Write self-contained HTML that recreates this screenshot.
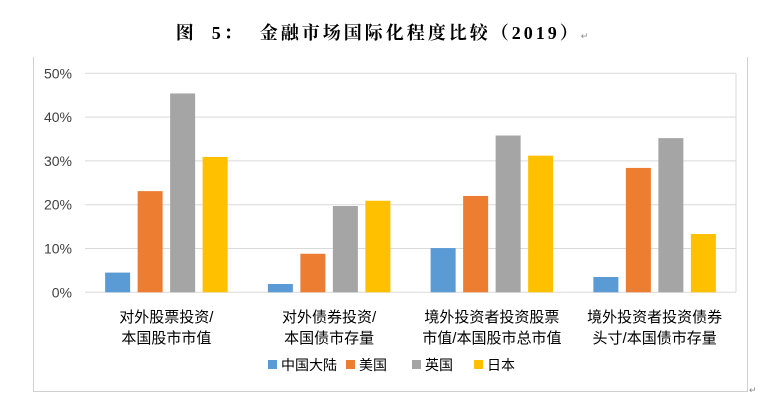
<!DOCTYPE html>
<html><head><meta charset="utf-8"><style>
body{margin:0;width:767px;height:405px;background:#fff;overflow:hidden;position:relative;font-family:"Liberation Sans","Noto Sans CJK SC",sans-serif}
#title{position:absolute;left:0;top:19px;width:767px;text-align:center;font:bold 18px "Liberation Serif","Noto Serif CJK SC",serif;color:#000;letter-spacing:3px}
</style></head><body>
<div id="title">图&nbsp;&nbsp;5：&nbsp;&nbsp;金融市场国际化程度比较（2019）<span style="font-size:9px;color:#888;font-weight:normal">↵</span></div>
<svg id="chart" width="767" height="405" style="position:absolute;left:0;top:0"></svg>
<script>
const categories=[["对外股票投资/","本国股市市值"],["对外债券投资/","本国债市存量"],["境外投资者投资股票","市值/本国股市总市值"],["境外投资者投资债券","头寸/本国债市存量"]];
const seriesNames=["中国大陆","美国","英国","日本"];
const chinaVals=[4.5,1.9,10.1,3.5];
const usVals=[23.1,8.8,22.0,28.4];
const ukVals=[45.4,19.7,35.8,35.2];
const jpVals=[30.9,20.9,31.2,13.3];
const yTicks=[0,10,20,30,40,50];
const colors=["#5b9bd5","#ed7d31","#a5a5a5","#ffc000"];
const svg=document.getElementById('chart');const NS="http://www.w3.org/2000/svg";
function mk(t,a,p){const e=document.createElementNS(NS,t);for(const k in a)e.setAttribute(k,a[k]);(p||svg).appendChild(e);return e;}
const X0=85,X1=736,Y0=292.3,Y1=73.3;
const y=v=>Y0-(v/50)*(Y0-Y1);
const gw=(X1-X0)/categories.length;
const gx=i=>X0+gw*(i+0.5);
const fr=mk('path',{d:"M33.5 57 V391.5 H747.5 V57",fill:"none",stroke:"#d0d0d0","stroke-width":1});


yTicks.forEach(t=>{
 const l=mk('line',{x1:X0,x2:X1,y1:y(t),y2:y(t),stroke:"#d9d9d9","stroke-width":1});
 
 
 const tx=mk('text',{x:72,y:y(t)+5,"text-anchor":"end","font-size":14,fill:"#404040"});
 tx.textContent=t+"%";
 
 
});
mk('line',{x1:X1,x2:X1,y1:Y1,y2:Y0,stroke:"#d9d9d9"});
const all=[chinaVals,usVals,ukVals,jpVals];
const bw=25,step=32.5;
categories.forEach((c,i)=>{
 all.forEach((s,j)=>{
  const cx=gx(i)+(j-1.5)*step;
  const r=mk('rect',{x:cx-bw/2,y:y(s[i]),width:bw,height:Y0-y(s[i]),fill:colors[j]});
  
  
 });
 c.forEach((line,k)=>{
  const t=mk('text',{x:gx(i),y:322+k*21,"text-anchor":"middle","font-size":15,fill:"#000"});
  t.textContent=line;
  
  
 });
});
const lx=[268,346,412,474];
seriesNames.forEach((n,j)=>{
 const g=mk('g',{});
 
 
 mk('rect',{x:lx[j],y:360,width:9,height:9,fill:colors[j]},g);
 const t=mk('text',{x:lx[j]+13,y:370,"font-size":14,fill:"#000"},g);
 t.textContent=n;
});
const ret=mk('text',{x:749,y:393,"font-size":9,fill:"#888"});ret.textContent="↵";


</script>
</body></html>
